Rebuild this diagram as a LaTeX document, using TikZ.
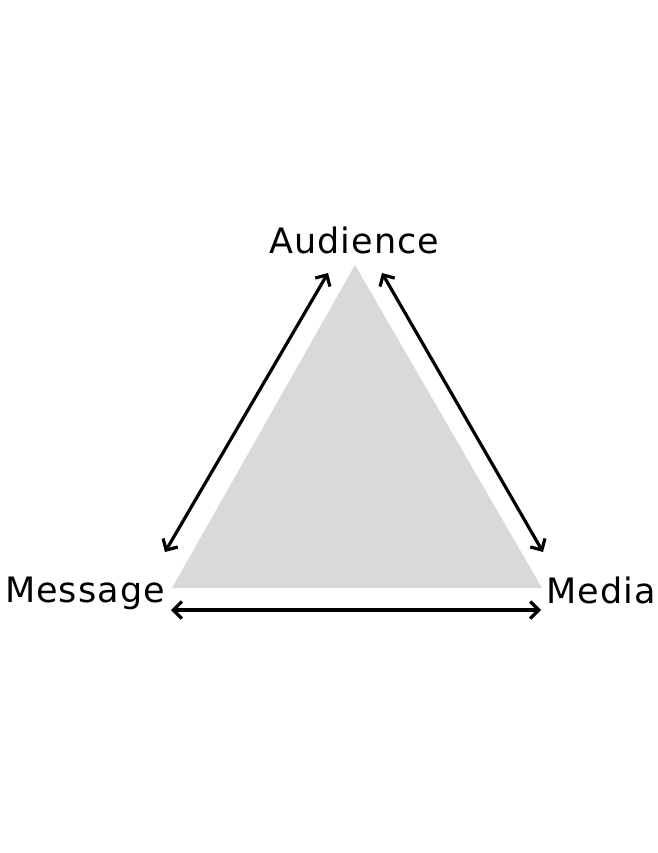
\documentclass[tikz,border=0pt]{standalone}
\usepackage{fontspec}
\setmainfont{DejaVu Sans}[LetterSpace=3]
\usetikzlibrary{arrows.meta}
\begin{document}
\begin{tikzpicture}[x=1pt,y=-1pt,
  lbl/.style={font=\fontsize{35}{40}\selectfont, inner sep=0pt, anchor=base west},
  conn/.style={line width=3.2pt, {Straight Barb[length=8.5pt,width=17pt]}-{Straight Barb[length=8.5pt,width=17pt]}}]
\useasboundingbox (0,0) rectangle (657,853);
\coordinate (top) at (355,265);
\coordinate (bl) at (172,588);
\coordinate (br) at (542,588);
\fill[fill={rgb,255:red,217;green,217;blue,217}] (top) -- (bl) -- (br) -- cycle;
\coordinate (a1) at (328,273);
\coordinate (a2) at (165,552);
\coordinate (b1) at (382,273);
\coordinate (b2) at (543,552);
\coordinate (c1) at (171,610);
\coordinate (c2) at (541,610);
\draw[conn] (a1) -- (a2);
\draw[conn] (b1) -- (b2);
\draw[conn] (c1) -- (c2);
\node[lbl] (aud) at (269,253) {Audience};
\node[lbl] (msg) at (5,602) {Message};
\node[lbl] (med) at (546,603) {Media};
\end{tikzpicture}
\end{document}
